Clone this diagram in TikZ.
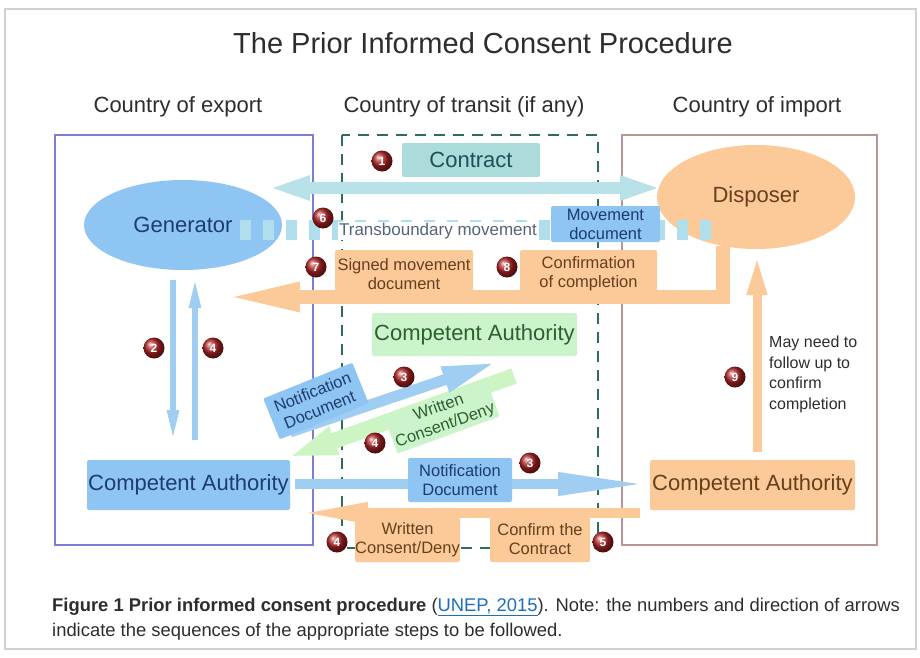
\documentclass[tikz,border=0pt]{standalone}
\usepackage{fontspec}
\setmainfont{Liberation Sans}
\usetikzlibrary{arrows.meta,calc,shapes.geometric}
\definecolor{bluefill}{RGB}{142,197,242}
\definecolor{bluearrow}{RGB}{160,206,242}
\definecolor{bluetext}{RGB}{30,60,110}
\definecolor{orangefill}{RGB}{252,201,153}
\definecolor{browntext}{RGB}{100,65,30}
\definecolor{tealfill}{RGB}{172,219,219}
\definecolor{tealtext}{RGB}{30,80,90}
\definecolor{tealarrow}{RGB}{184,226,232}
\definecolor{greenfill}{RGB}{204,244,204}
\definecolor{greentext}{RGB}{45,95,45}
\definecolor{greenarrow}{RGB}{205,244,195}
\definecolor{exportframe}{RGB}{125,125,215}
\definecolor{transitdash}{RGB}{45,110,90}
\definecolor{importframe}{RGB}{185,150,150}
\definecolor{darktext}{RGB}{45,45,45}
\definecolor{linkblue}{RGB}{30,110,190}
\definecolor{badgered}{RGB}{175,35,35}
\definecolor{tmdash}{RGB}{176,222,236}
\newcommand{\myfsL}{\fontsize{22}{25}\selectfont}
\newcommand{\myfsM}{\fontsize{16.5}{19}\selectfont}
\newcommand{\myfsS}{\fontsize{16}{20.5}\selectfont}
\begin{document}
\begin{tikzpicture}[x=1pt,y=-1pt,
  box/.style={rectangle, inner sep=0pt, align=center, rounded corners=2pt},
  bluebox/.style={box, fill=bluefill, text=bluetext},
  orangebox/.style={box, fill=orangefill, text=browntext},
  badge/.style={circle, minimum size=21pt, inner sep=0pt, shading=ball, ball color=badgered, text=white, font=\bfseries\fontsize{12}{12}\selectfont},
  frame/.style={line width=1.8pt},
  fatblue/.style={draw=bluearrow, line width=10pt, -{Triangle[length=90pt,width=21pt]}},
  thinblue/.style={draw=bluearrow, line width=5.5pt, -{Triangle[length=30pt,width=11pt]}},
  fatorange/.style={draw=orangefill, line width=10pt, -{Triangle[length=70pt,width=19pt]}},
  header/.style={text=darktext, font=\fontsize{22}{25}\selectfont}
]
\useasboundingbox (0,0) rectangle (920,657);
\fill[white] (0,0) rectangle (920,657);
\draw[black!18, line width=1.2pt] (5,9) rectangle (916,649);

% title and headers
\node[text=darktext, font=\fontsize{29}{32}\selectfont] (title) at (483,43) {The Prior Informed Consent Procedure};
\node[header] (hexp) at (178,107) {Country of export};
\node[header] (htra) at (464,107) {Country of transit (if any)};
\node[header] (himp) at (757,107) {Country of import};

% country frames
\draw[frame, draw=exportframe] (55,135) rectangle (313,545);
\draw[frame, draw=importframe] (622,135) rectangle (877,545);
\draw[line width=2.6pt, draw=transitdash, dash pattern=on 11pt off 8pt] (342,135) rectangle (598,548);

% ellipses
\node[ellipse, fill=bluefill, minimum width=198pt, minimum height=90pt, inner sep=0pt, text=bluetext, font=\myfsL] (gen) at (183,225) {Generator};
\node[ellipse, fill=orangefill, minimum width=198pt, minimum height=104pt, inner sep=0pt, text=browntext, font=\myfsL] (disp) at (756,197) {Disposer};

% contract double arrow
\coordinate (ca0) at (268,188);
\coordinate (ca1) at (662,188);
\draw[draw=tealarrow, line width=12pt, {Triangle[length=42pt,width=22pt]}-{Triangle[length=42pt,width=22pt]}] (ca0) -- (ca1);
\node[box, fill=tealfill, text=tealtext, minimum width=138pt, minimum height=34pt, font=\myfsL] (contract) at (471,160) {Contract};
\node[badge] (b1) at (382,161) {1};

% transboundary movement (dotted arrow)
\coordinate (tm0) at (240,230);
\coordinate (tm1) at (716,230);
\draw[draw=tmdash, line width=20pt, dash pattern=on 11pt off 12pt] (tm0) -- (tm1);
\node[fill=white, inner sep=1pt, text={rgb,255:red,85;green,100;blue,120}, font=\fontsize{17}{20}\selectfont] (tmlabel) at (438,231) {Transboundary movement};
\node[bluebox, minimum width=109pt, minimum height=36pt, font=\myfsM] (movdoc) at (605.5,224) {Movement\\document};
\node[badge] (b6) at (323,218) {6};

% orange L arrow from disposer back to generator side
\coordinate (o0) at (723,246);
\coordinate (o1) at (723,297);
\coordinate (o2) at (222,297);
\draw[draw=orangefill, line width=14pt, line join=miter, -{Triangle[length=78pt,width=26pt]}] (o0) -- (o1) -- (o2);
\node[orangebox, minimum width=138pt, minimum height=48pt, font=\myfsM] (signed) at (404,274) {Signed movement\\document};
\node[orangebox, minimum width=137pt, minimum height=48pt, font=\myfsM] (confcomp) at (588.5,274) {Confirmation\\of completion};
\node[badge] (b7) at (316,267) {7};
\node[badge] (b8) at (507,267) {8};

% competent authorities
\node[bluebox, minimum width=203pt, minimum height=50pt, font=\myfsL] (caexp) at (188.5,485) {Competent Authority};
\node[box, fill=greenfill, text=greentext, minimum width=205pt, minimum height=43pt, font=\myfsL] (catra) at (474.5,334.5) {Competent Authority};
\node[orangebox, minimum width=205pt, minimum height=50pt, font=\myfsL] (caimp) at (752.5,485) {Competent Authority};

% arrows 2 and 4 between generator and CA export
\coordinate (a2s) at (173,280);
\coordinate (a2e) at (173,440);
\coordinate (a4s) at (195,440);
\coordinate (a4e) at (195,278);
\draw[thinblue] (a2s) -- (a2e);
\draw[thinblue] (a4s) -- (a4e);
\node[badge] (b2) at (154,348) {2};
\node[badge] (b4a) at (213,348) {4};

% diagonal: consent back (green), notification to transit CA (blue)
\coordinate (wc0) at (514,376);
\coordinate (wc1) at (278,461);
\draw[draw=greenarrow, line width=16pt, -{Triangle[length=60pt,width=24pt]}] (wc0) -- (wc1);
\node[box, rotate=20, fill=greenfill, text=greentext, inner sep=2pt, font=\myfsM] (wcdiag) at (442,417) {Written\\Consent/Deny};
\coordinate (nd0) at (290,432);
\coordinate (nd1) at (497,362);
\draw[draw=bluearrow, line width=11pt, -{Triangle[length=55pt,width=24pt]}] (nd0) -- (nd1);
\node[bluebox, rotate=22, minimum width=96pt, minimum height=44pt, font=\myfsM] (nddiag) at (316,401) {Notification\\Document};
\node[badge] (b3a) at (404,377) {3};
\node[badge] (b4b) at (375,443) {4};

% horizontal notification to CA import
\coordinate (nh0) at (295,484);
\coordinate (nh1) at (648,484);
\draw[fatblue] (nh0) -- (nh1);
\node[bluebox, minimum width=104pt, minimum height=44pt, font=\myfsM] (ndhor) at (460,480) {Notification\\Document};
\node[badge] (b3b) at (530,463) {3};

% bottom orange back arrow
\coordinate (ob0) at (640,513);
\coordinate (ob1) at (298,513);
\draw[fatorange] (ob0) -- (ob1);
\node[orangebox, minimum width=101pt, minimum height=45pt, font=\myfsM] (wcbot) at (407.5,539.5) {Written\\Consent/Deny};
\node[orangebox, minimum width=100pt, minimum height=45pt, font=\myfsM] (confcon) at (540,539.5) {Confirm the\\Contract};
\node[badge] (b4c) at (337,542) {4};
\node[badge] (b5) at (603,542) {5};

% arrow 9
\coordinate (n0) at (757,452);
\coordinate (n1) at (757,255);
\draw[draw=orangefill, line width=9pt, -{Triangle[length=40pt,width=18pt]}] (n0) -- (n1);
\node[badge] (b9) at (735,377) {9};
\node[anchor=north west, align=left, text=darktext, font=\myfsS, inner sep=0pt] (follow) at (769,336) {May need to\\follow up to\\confirm\\completion};

% caption
\node[anchor=base west, inner sep=0pt, text=darktext, font=\fontsize{18.4}{22}\selectfont] (cap1) at (52,611) {\textbf{Figure 1 Prior informed consent procedure} (\textcolor{linkblue}{\underline{UNEP, 2015}}). Note: the numbers and direction of arrows};
\node[anchor=base west, inner sep=0pt, text=darktext, font=\fontsize{18.4}{22}\selectfont] (cap2) at (52,636) {indicate the sequences of the appropriate steps to be followed.};
\end{tikzpicture}
\end{document}
